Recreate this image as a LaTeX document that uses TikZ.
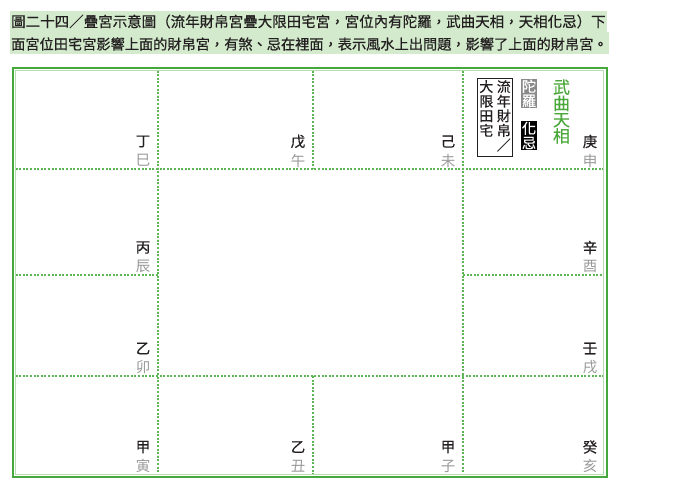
\documentclass[tikz,border=0pt]{standalone}
\usepackage{fontspec}
\setmainfont{Noto Sans CJK TC}
\newfontfamily\titlefont[FakeBold=0.6]{Noto Sans CJK TC}
\newfontfamily\medfont[FakeBold=0.4]{Noto Sans CJK TC}
\definecolor{frameg}{HTML}{45A83C}
\definecolor{innerg}{HTML}{B5DDAE}
\definecolor{dotg}{HTML}{5DB553}
\definecolor{bandg}{HTML}{D3EBCC}
\definecolor{txtk}{HTML}{231F20}
\definecolor{branchg}{HTML}{9A9A9A}
\definecolor{starg}{HTML}{4AA83A}
\definecolor{boxgray}{HTML}{8A8A8A}
\tikzset{
  gridline/.style={dotg, line width=1.2pt, dash pattern=on 2pt off 1.6pt},
  stem/.style={inner sep=0, text=txtk, font=\medfont\fontsize{14.5}{14.5}\selectfont},
  branch/.style={inner sep=0, text=branchg, font=\fontsize{14.5}{14.5}\selectfont},
  titletext/.style={anchor=west, inner sep=0, text=txtk},
  vcol/.style={inner sep=0, align=center, text=txtk, font=\medfont\fontsize{14}{14.6}\selectfont},
  tagbox/.style={text=white, inner xsep=1pt, inner ysep=1pt, align=center, font=\medfont\fontsize{14.3}{14.5}\selectfont},
}
\begin{document}
\begin{tikzpicture}[x=1pt,y=-1pt]
\useasboundingbox (0,0) rectangle (678,501);
\fill[white] (0,0) rectangle (678,501);
% title band
\fill[bandg] (10,11) rectangle (607,32);
\fill[bandg] (10,32) rectangle (609,54);
\node[titletext, font=\titlefont\fontsize{14.5}{14.5}\selectfont] (t1) at (11,21.5) {圖二十四／疊宮示意圖（流年財帛宮疊大限田宅宮，宮位內有陀羅，武曲天相，天相化忌）下};
\node[titletext, font=\titlefont\fontsize{14.2}{14.2}\selectfont] (t2) at (11,44) {面宮位田宅宮影響上面的財帛宮，有煞、忌在裡面，表示風水上出問題，影響了上面的財帛宮。};
% grid
\draw[gridline] (158,70.5) -- (158,474.5);
\draw[gridline] (463,70.5) -- (463,474.5);
\draw[gridline] (313,70.5) -- (313,169);
\draw[gridline] (313,376) -- (313,474.5);
\draw[gridline] (15.5,169) -- (603,169);
\draw[gridline] (15.5,376) -- (603,376);
\draw[gridline] (15.5,275) -- (158,275);
\draw[gridline] (463,275) -- (603,275);
% frames
\draw[innerg, line width=1.3pt] (15.5,70.5) rectangle (603.5,474.5);
\draw[frameg, line width=2.3pt] (13,68) rectangle (607,477);
% stems and branches
\foreach \n/\x/\y/\s/\b in {a/143/169/丁/巳, b/298/169/戊/午, c/448/169/己/未, d/590/169/庚/申,
  e/143/275/丙/辰, f/590/275/辛/酉, g/143/376/乙/卯, h/590/376/壬/戌,
  i/143/474.5/甲/寅, j/298/474.5/乙/丑, k/448/474.5/甲/子, l/590/474.5/癸/亥}{
  \node[stem] (s\n) at (\x,\y-27.5) {\s};
  \node[branch] (b\n) at (\x,\y-8.5) {\b};
}
% stars in top-right cell
\node[vcol, anchor=north] (c1) at (503.8,80) {流\\年\\財\\帛\\／};
\node[vcol, anchor=north] (c2) at (486.3,80) {大\\限\\田\\宅};
\draw[txtk, line width=0.6pt] (477.5,78) rectangle (512,156);
\node[tagbox, fill=boxgray] (tl) at (529,93.5) {陀\\羅};
\node[tagbox, fill=black] (hj) at (529,135.5) {化\\忌};
\node[inner sep=0, align=center, text=starg, font=\medfont\fontsize{17}{16.3}\selectfont] (wq) at (561.5,111.5) {武\\曲\\天\\相};
\end{tikzpicture}
\end{document}
